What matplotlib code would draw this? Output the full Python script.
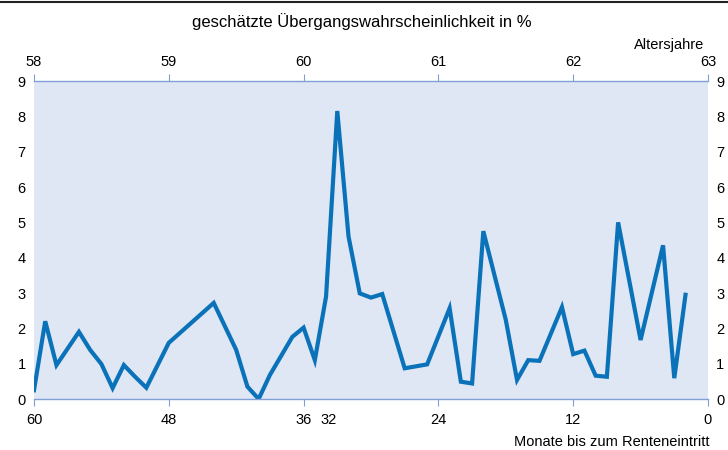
import matplotlib.pyplot as plt
from matplotlib.lines import Line2D

plt.rcParams['font.family'] = ['Liberation Sans', 'DejaVu Sans']

# Monate bis zum Renteneintritt / geschaetzte Wahrscheinlichkeit in %
monate = [60, 59, 58, 56, 55, 54, 53, 52, 51, 50, 48, 44, 42, 41, 40, 39, 37, 36, 35, 34,
          33, 32, 31, 30, 29, 27, 25, 23, 22, 21, 20, 18, 17, 16, 15, 13, 12, 11, 10, 9,
          8, 6, 4, 3, 2]
werte = [0.25, 2.2, 0.96, 1.9, 1.39, 0.99, 0.31, 0.96, 0.63, 0.32, 1.59, 2.72, 1.39, 0.35, 0.0,
         0.68, 1.76, 2.02, 1.1, 2.9, 8.15, 4.6, 2.99, 2.87, 2.97, 0.87, 0.98, 2.57, 0.49, 0.44,
         4.75, 2.24, 0.54, 1.1, 1.08, 2.6, 1.27, 1.37, 0.66, 0.63, 5.0, 1.67, 4.35, 0.59, 2.95]

monat_ticks = [60, 48, 36, 24, 12, 0]
alter_labels = ['58', '59', '60', '61', '62', '63']

fig = plt.figure(figsize=(7.28, 4.5), dpi=100)
ax = fig.add_axes([0.0467, 0.1133, 0.9258, 0.7067])

ax.set_facecolor('#dfe6f4')
ax.plot(monate, werte, color='#0a72b9', linewidth=3.0, solid_joinstyle='miter')

ax.set_xlim(60, 0)
ax.set_ylim(0, 9)

achsfarbe = '#7f9fd6'
for s in ['left', 'right']:
    ax.spines[s].set_visible(False)
for s in ['top', 'bottom']:
    ax.spines[s].set_color(achsfarbe)
    ax.spines[s].set_linewidth(1.0)

ax.set_xticks(monat_ticks)
ax.set_xticklabels([str(m) for m in monat_ticks])
# Beschriftung "32" sitzt im Original etwas neben der Position
ax.set_xticks([33.8], minor=True)
ax.set_xticklabels(['32'], minor=True)
ax.tick_params(axis='x', which='major', direction='out', length=5, color=achsfarbe,
               labelsize=10.5, pad=5)
ax.tick_params(axis='x', which='minor', length=0, labelsize=10.5, pad=10)

ax.set_yticks(range(10))
ax.tick_params(axis='y', length=0, labelsize=10.5, left=True, right=True,
               labelleft=True, labelright=True, pad=6)

oben = ax.twiny()
oben.set_xlim(ax.get_xlim())
oben.set_xticks(monat_ticks)
oben.set_xticklabels(alter_labels)
oben.tick_params(axis='x', direction='out', length=5, color=achsfarbe, labelsize=10.5, pad=4)
for s in oben.spines.values():
    s.set_visible(False)

fig.text(0.497, 0.952, 'geschätzte Übergangswahrscheinlichkeit in %', ha='center', va='center',
         fontsize=12)
fig.text(0.968, 0.9, 'Altersjahre', ha='right', va='center', fontsize=10.5)
fig.text(0.975, 0.018, 'Monate bis zum Renteneintritt', ha='right', va='center', fontsize=10.5)

fig.add_artist(Line2D([0, 1], [0.995, 0.995], color='#222222', linewidth=1.5,
                      transform=fig.transFigure))

fig.savefig('out.png', dpi=100)
